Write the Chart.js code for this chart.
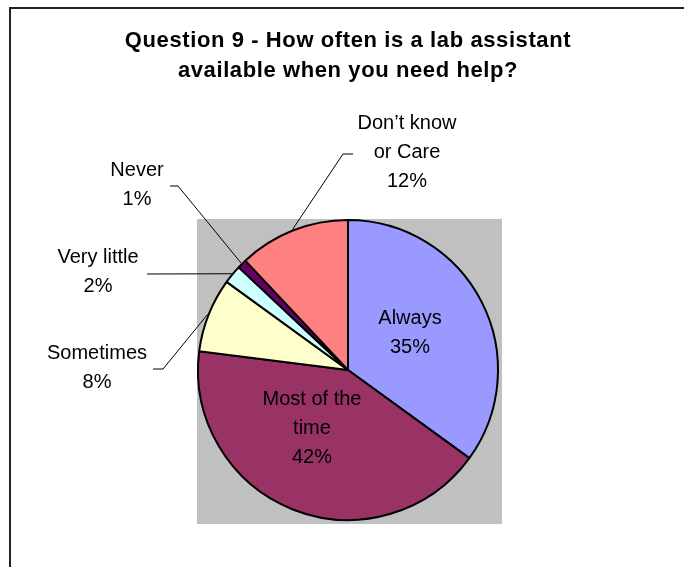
<!DOCTYPE html>
<html>
<head>
<meta charset="utf-8">
<script src="https://cdn.jsdelivr.net/npm/chart.js@4.4.1/dist/chart.umd.min.js"></script>
<style>
  html, body { margin: 0; padding: 0; background: #ffffff; }
  #wrap { width: 684px; height: 567px; position: relative; }
</style>
</head>
<body>
<div id="wrap"><canvas id="c" width="684" height="567"></canvas></div>
<script>
// ---- data ----
const titleLines = ['Question 9 - How often is a lab assistant', 'available when you need help?'];
const categories = ['Always', 'Most of the time', 'Sometimes', 'Very little', 'Never', 'Don\u2019t know or Care'];
const values = [35, 42, 8, 2, 1, 12];
const nameLines = [['Always'], ['Most of the', 'time'], ['Sometimes'], ['Very little'], ['Never'], ['Don\u2019t know', 'or Care']];
const colors = ['#9999FF', '#993366', '#FFFFCC', '#CCFFFF', '#660066', '#FF8080'];

// ---- label placement (style, relative to pie centre) ----
const labelStyle = [
  { dx: 62, dy: -52 },
  { dx: -36, dy: 29 },
  { dx: -251, dy: -17, elbow: [-185, -1], end: [-195, -1] },
  { dx: -250, dy: -113, elbow: [-201, -96], end: [-201, -96] },
  { dx: -211, dy: -200, elbow: [-170, -184], end: [-178, -184] },
  { dx: 59, dy: -247, elbow: [-5, -216], end: [5, -216] }
];
const FONT = '"Liberation Sans", Arial, sans-serif';
const LINE_H = 29;

const framePlugin = {
  id: 'frame',
  beforeDraw(chart) {
    const ctx = chart.ctx;
    ctx.save();
    ctx.fillStyle = '#ffffff';
    ctx.fillRect(0, 0, chart.width, chart.height);
    ctx.strokeStyle = '#222222';
    ctx.lineWidth = 2;
    ctx.beginPath();
    ctx.moveTo(10, chart.height);
    ctx.lineTo(10, 8);
    ctx.lineTo(chart.width, 8);
    ctx.stroke();
    ctx.restore();
    ctx.letterSpacing = '0.6px';
  },
  beforeDatasetsDraw(chart) {
    const ctx = chart.ctx;
    ctx.letterSpacing = '0px';
    const arc = chart.getDatasetMeta(0).data[0];
    if (!arc) return;
    const p = arc.getProps(['x', 'y', 'outerRadius'], true);
    const R = p.outerRadius;
    ctx.save();
    ctx.fillStyle = '#C0C0C0';
    ctx.fillRect(p.x - R - 1, p.y - R - 1, 2 * R + 5, 2 * R + 5);
    ctx.restore();
  }
};

const labelPlugin = {
  id: 'sliceLabels',
  afterDatasetsDraw(chart) {
    const ctx = chart.ctx;
    const meta = chart.getDatasetMeta(0);
    ctx.save();
    ctx.letterSpacing = '0px';
    meta.data.forEach((arc, i) => {
      const p = arc.getProps(['x', 'y', 'startAngle', 'endAngle', 'outerRadius'], true);
      const st = labelStyle[i];
      const cx = p.x, cy = p.y;
      if (st.elbow) {
        const a = (p.startAngle + p.endAngle) / 2;
        const ex = cx + Math.cos(a) * (p.outerRadius + 1);
        const ey = cy + Math.sin(a) * (p.outerRadius + 1);
        ctx.strokeStyle = '#000000';
        ctx.lineWidth = 1;
        ctx.beginPath();
        ctx.moveTo(ex, ey);
        ctx.lineTo(cx + st.elbow[0], cy + st.elbow[1]);
        ctx.lineTo(cx + st.end[0], cy + st.end[1]);
        ctx.stroke();
      }
      const lines = nameLines[i].concat([values[i] + '%']);
      ctx.fillStyle = '#000000';
      ctx.font = '20px ' + FONT;
      ctx.textAlign = 'center';
      ctx.textBaseline = 'middle';
      lines.forEach((t, k) => {
        ctx.fillText(t, cx + st.dx, cy + st.dy + k * LINE_H);
      });
    });
    ctx.restore();
  }
};

new Chart(document.getElementById('c'), {
  type: 'pie',
  data: {
    labels: categories,
    datasets: [{
      data: values,
      backgroundColor: colors,
      borderColor: '#000000',
      borderWidth: 2,
      hoverOffset: 0
    }]
  },
  options: {
    responsive: false,
    devicePixelRatio: 1,
    animation: false,
    radius: 150,
    layout: { padding: { left: 12, right: 0, top: 0, bottom: 46 } },
    plugins: {
      legend: { display: false },
      tooltip: { enabled: false },
      title: {
        display: true,
        text: titleLines,
        color: '#000000',
        font: { family: FONT, size: 22, weight: 'bold', lineHeight: 30 / 22 },
        padding: { top: 26, bottom: 133 }
      }
    }
  },
  plugins: [framePlugin, labelPlugin]
});
</script>
</body>
</html>
